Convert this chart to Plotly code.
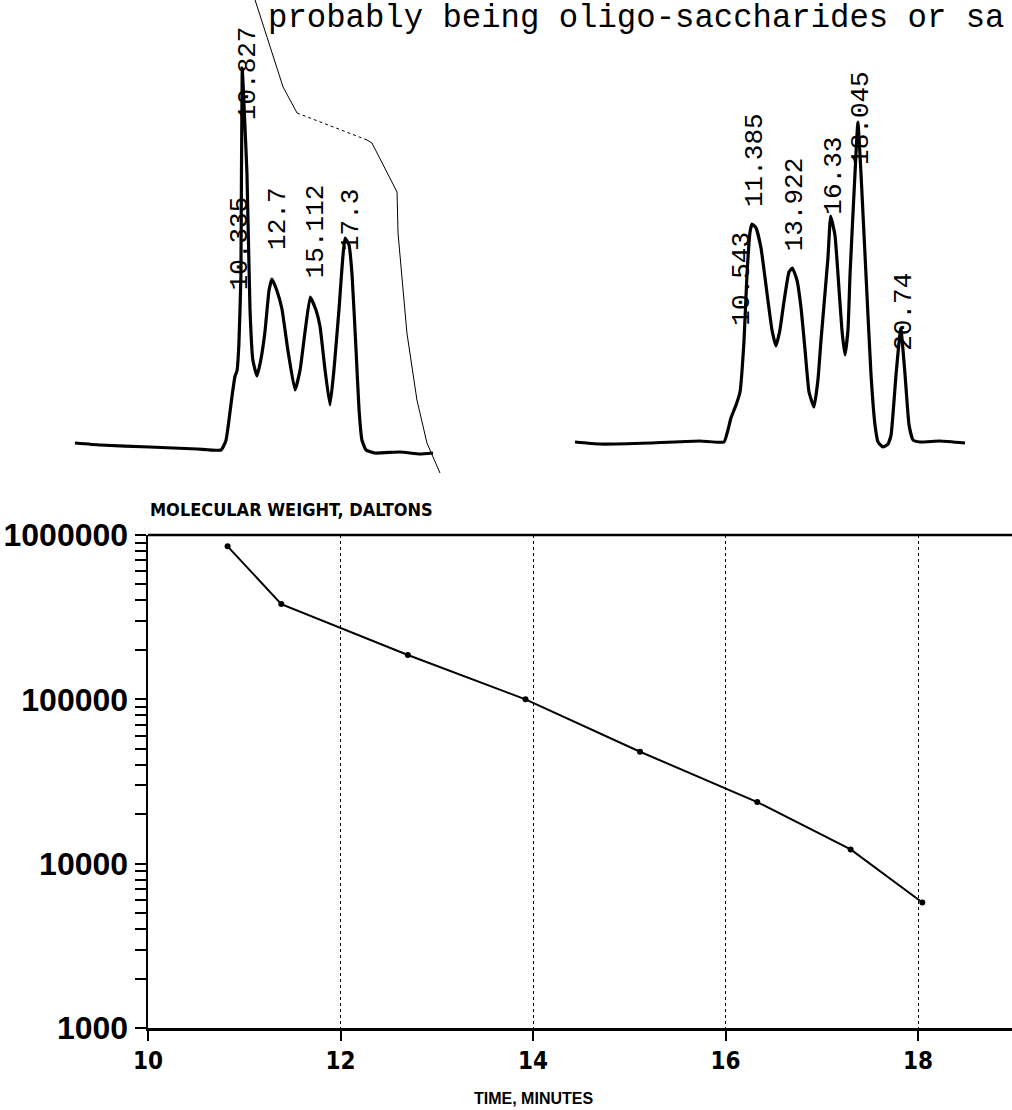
import plotly.graph_objects as go

# ---------------- data ----------------
# calibration standards (retention time, min ; molecular weight, Da)
std_time = [10.827, 11.385, 12.7, 13.922, 15.112, 16.33, 17.3, 18.045]
std_mw = [853000, 380000, 186000, 100000, 48000, 23700, 12200, 5800]

# left chromatogram (time, min ; detector signal, arbitrary units)
left_t = [0.31, 1.9, 5.0, 8.0, 9.5, 9.8, 9.94, 10.2, 10.38, 10.5, 10.62, 10.75, 10.83,
          11.0, 11.13, 11.32, 11.5, 11.76, 12.0, 12.26, 12.52, 12.7, 13.0, 13.33, 13.7,
          14.15, 14.47, 14.78, 15.11, 15.47, 15.72, 16.04, 16.35, 16.6, 16.92, 17.3,
          17.55, 17.74, 17.99, 18.18, 18.36, 18.62, 19.18, 20.75, 22.0, 22.83]
left_s = [12, 10, 8, 6, 5, 14, 28, 60, 79, 84, 110, 180, 387,
          330, 281, 146, 95, 79, 95, 123, 165, 176, 165, 146, 105,
          65, 85, 123, 158, 145, 129, 85, 50, 85, 146, 217,
          210, 180, 105, 45, 15, 5, 2, 3, 1, 2]

# thin second trace over the left chromatogram
grad_t = [11.64, 11.95, 13.40, 14.28, 18.68, 18.99, 20.57, 20.63, 21.19, 21.82, 22.45, 23.27]
grad_s = [455, 440, 368, 342, 315, 312, 263, 222, 122, 55, 12, -18]

# right chromatogram
right_t = [0.25, 1.82, 4.97, 8.11, 9.62, 9.87, 10.06, 10.38, 10.63, 10.88, 11.07, 11.26,
           11.385, 11.64, 11.95, 12.39, 12.64, 12.89, 13.14, 13.40, 13.71, 13.92, 14.21,
           14.47, 14.72, 14.97, 15.28, 15.53, 15.72, 16.16, 16.33, 16.6, 16.79, 17.04,
           17.23, 17.42, 17.55, 17.86, 18.045, 18.24, 18.55, 18.87, 19.12, 19.31, 19.62,
           19.94, 20.13, 20.44, 20.74, 21.01, 21.26, 21.51, 21.95, 23.2, 24.78]
right_s = [13, 11, 12, 14, 13, 25, 37, 50, 63, 114, 181, 223,
           231, 227, 207, 154, 125, 109, 125, 154, 183, 187, 175,
           147, 105, 63, 48, 75, 114, 197, 239, 220, 181, 125,
           100, 125, 181, 281, 333, 281, 181, 80, 30, 13, 8,
           11, 20, 80, 127, 80, 30, 15, 13, 14, 12]

# peak labels printed by the integrator
left_labels = ["10.827", "10.335", "12.7", "15.112", "17.3"]
left_label_sig = [333, 163, 203, 175, 202]
right_labels = ["10.543", "11.385", "13.922", "16.33", "18.045", "20.74"]
right_label_sig = [127, 246, 202, 238, 288, 102]

header_text = "probably being oligo-saccharides or sa"

y_tick_decades = [1000, 10000, 100000, 1000000]
x_ticks = [10, 12, 14, 16, 18]

# ---------------- layout helpers ----------------
W, H = 1012, 1110
def px(x):
    return x / W
def py(y):
    return 1 - y / H

PPM = 15.9  # chromatogram pixels per minute
left_range = [0, 24]
right_range = [0, (W - 571) / PPM]
sig_range = [-30, 455]

fig = go.Figure()

line_style = dict(color="black", width=3.2, shape="spline", smoothing=0.4)

fig.add_trace(go.Scatter(x=left_t, y=left_s, mode="lines", line=line_style,
                         xaxis="x", yaxis="y", showlegend=False, hoverinfo="skip"))
fig.add_trace(go.Scatter(x=grad_t[0:4], y=grad_s[0:4], mode="lines",
                         line=dict(color="black", width=1),
                         xaxis="x", yaxis="y", showlegend=False, hoverinfo="skip"))
fig.add_trace(go.Scatter(x=grad_t[3:5], y=grad_s[3:5], mode="lines",
                         line=dict(color="black", width=1, dash="dot"),
                         xaxis="x", yaxis="y", showlegend=False, hoverinfo="skip"))
fig.add_trace(go.Scatter(x=grad_t[4:], y=grad_s[4:], mode="lines",
                         line=dict(color="black", width=1),
                         xaxis="x", yaxis="y", showlegend=False, hoverinfo="skip"))
fig.add_trace(go.Scatter(x=right_t, y=right_s, mode="lines", line=line_style,
                         xaxis="x2", yaxis="y2", showlegend=False, hoverinfo="skip"))

fig.add_trace(go.Scatter(x=std_time, y=std_mw, mode="lines+markers",
                         line=dict(color="black", width=2),
                         marker=dict(color="black", size=6),
                         xaxis="x3", yaxis="y3", showlegend=False))

label_font = dict(family="Liberation Mono, DejaVu Sans Mono, monospace", size=26, color="black")
annotations = []
for lab, sig in zip(left_labels, left_label_sig):
    annotations.append(dict(x=float(lab), y=sig, xref="x", yref="y", text=lab,
                            textangle=-90, showarrow=False, xanchor="center",
                            yanchor="bottom", xshift=6, font=label_font))
for lab, sig in zip(right_labels, right_label_sig):
    annotations.append(dict(x=float(lab), y=sig, xref="x2", yref="y2", text=lab,
                            textangle=-90, showarrow=False, xanchor="center",
                            yanchor="bottom", xshift=3, font=label_font))

annotations.append(dict(x=px(266), y=py(18), xref="paper", yref="paper", text=header_text,
                        showarrow=False, xanchor="left", yanchor="middle",
                        font=dict(family="Liberation Mono, monospace", size=32.3, color="black")))
annotations.append(dict(x=px(148), y=py(510), xref="paper", yref="paper",
                        text="<b>MOLECULAR WEIGHT, DALTONS</b>", showarrow=False,
                        xanchor="left", yanchor="middle",
                        font=dict(family="DejaVu Sans Condensed, Liberation Sans",
                                  size=18, color="black")))
annotations.append(dict(x=14, y=py(1098), xref="x3", yref="paper",
                        text="<b>TIME, MINUTES</b>", showarrow=False,
                        xanchor="center", yanchor="middle",
                        font=dict(family="Liberation Sans, Arial", size=16, color="black")))

ytv, ytt = [], []
for d in y_tick_decades[:-1]:
    for k in range(1, 10):
        ytv.append(k * d)
        ytt.append(str(d) if k == 1 else "")
ytv.append(y_tick_decades[-1])
ytt.append(str(y_tick_decades[-1]))

hidden = dict(visible=False, showgrid=False, zeroline=False, fixedrange=True, automargin=False)

fig.update_layout(
    template="none",
    width=W, height=H, autosize=False,
    margin=dict(l=0, r=0, t=0, b=0, pad=0),
    paper_bgcolor="white", plot_bgcolor="white",
    xaxis=dict(domain=[px(70), px(70 + 24 * PPM)], range=left_range, anchor="y", **hidden),
    yaxis=dict(domain=[py(485), 1.0], range=sig_range, anchor="x", **hidden),
    xaxis2=dict(domain=[px(571), 1.0], range=right_range, anchor="y2", **hidden),
    yaxis2=dict(domain=[py(485), 1.0], range=sig_range, anchor="x2", **hidden),
    xaxis3=dict(domain=[px(148), 1.0], range=[10, 10 + (W - 148) / 96.25], anchor="y3",
                automargin=False,
                tickvals=x_ticks, ticktext=[str(v) for v in x_ticks],
                ticks="outside", ticklen=10, tickwidth=2, tickcolor="black",
                showline=True, linecolor="black", linewidth=2.5,
                showgrid=True, gridcolor="black", gridwidth=1, griddash="dot",
                zeroline=False,
                tickfont=dict(family="DejaVu Sans Condensed, Liberation Sans",
                              size=24, color="black", weight="bold")),
    yaxis3=dict(domain=[py(1028), py(535)], type="log", range=[3, 6], anchor="x3",
                automargin=False,
                tickvals=ytv, ticktext=ytt,
                ticks="outside", ticklen=11, tickwidth=2, tickcolor="black",
                showline=True, linecolor="black", linewidth=2.5,
                showgrid=False, zeroline=False,
                tickfont=dict(family="Liberation Sans, Arial", size=32, color="black",
                              weight="bold")),
    annotations=annotations,
    shapes=[dict(type="line", xref="x3 domain", yref="y3 domain", x0=0, x1=1, y0=1, y1=1,
                 line=dict(color="black", width=2.5))],
)

fig.write_html("out.html",
               config={"displayModeBar": False, "staticPlot": True},
               post_script="document.body.style.margin='0';document.body.style.overflow='hidden';")
